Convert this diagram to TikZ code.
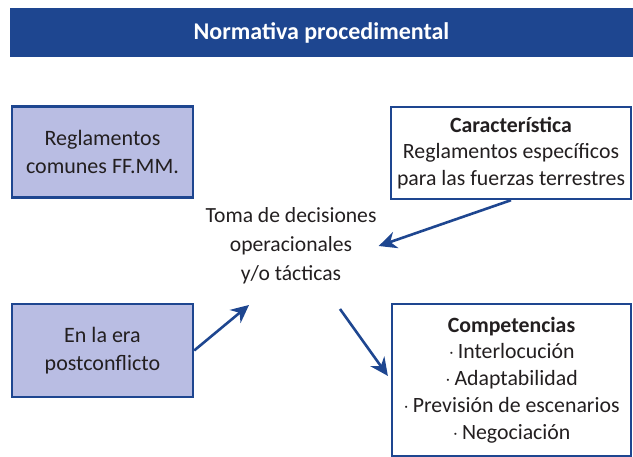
\documentclass[tikz,border=0pt]{standalone}
\usepackage{fontspec}
\setmainfont{Carlito}
\usetikzlibrary{arrows.meta}

\definecolor{navy}{HTML}{1E4690}
\definecolor{lilac}{HTML}{B9BDE3}
\definecolor{ink}{HTML}{231F20}

\tikzset{
  fillbox/.style={draw=navy, line width=2.4pt, fill=lilac, align=center,
    text=ink, font=\fontsize{22}{27.5}\selectfont, inner sep=0pt},
  plainbox/.style={draw=navy, line width=2.4pt, fill=white, align=center,
    text=ink, font=\fontsize{21.8}{26.8}\selectfont, inner sep=0pt},
  link/.style={draw=navy, line width=2.6pt, -{Stealth[length=18pt,width=17pt]}}
}

\begin{document}
\begin{tikzpicture}[x=1pt,y=-1pt]
    \useasboundingbox (0,0) rectangle (633,457);

    % title bar
    \node[fill=navy, minimum width=623pt, minimum height=49pt, inner sep=0pt,
          text=white, font=\bfseries\fontsize{24}{28}\selectfont]
          (title) at (321.5,32.5) {Normativa procedimental};

    % boxes
    \node[fillbox, minimum width=181pt, minimum height=91pt]
          (reg) at (102.5,152) {Reglamentos\\comunes FF.MM.};
    \node[plainbox, minimum width=240pt, minimum height=92pt]
          (car) at (511,153) {\textbf{Característica}\\Reglamentos específicos\\para las fuerzas terrestres};
    \node[fillbox, minimum width=181pt, minimum height=93pt]
          (post) at (102.5,350.5) {En la era\\postconflicto};
    \node[plainbox, minimum width=239pt, minimum height=152pt]
          (comp) at (511.5,380) {\textbf{Competencias}\\$\cdot$\,Interlocución\\$\cdot$\,Adaptabilidad\\$\cdot$\,Previsión de escenarios\\$\cdot$\,Negociación};

    % centre
    \node[align=center, text=ink, font=\fontsize{21.6}{29}\selectfont, inner sep=2pt]
          (toma) at (291,246) {Toma de decisiones\\operacionales\\y/o tácticas};

    % arrows
    \coordinate (tipA) at (249,305);
    \coordinate (tailC) at (340,309);
    \draw[link] (car.south) -- (toma.east);
    \draw[link] (post.east) -- (tipA);
    \draw[link, shorten >=5pt] (tailC) -- (comp.west);
\end{tikzpicture}
\end{document}
